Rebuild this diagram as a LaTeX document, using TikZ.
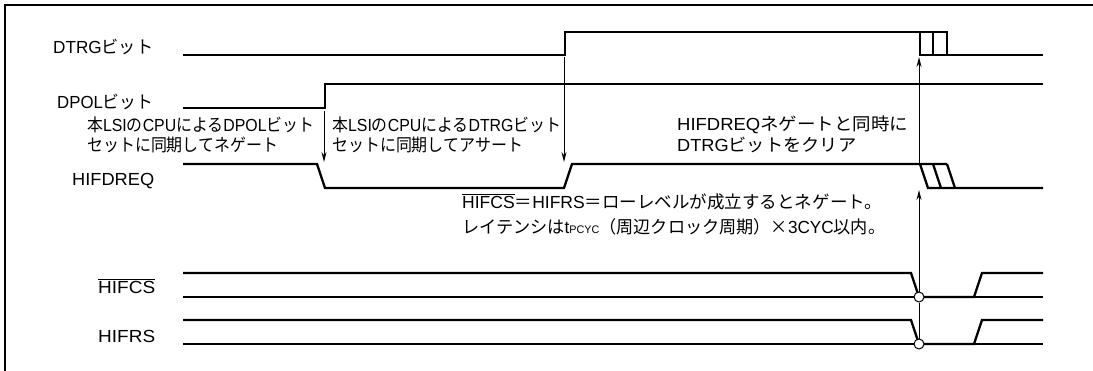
\documentclass[tikz,border=0pt]{standalone}
\usepackage{fontspec}
\setmainfont{Liberation Sans}
\newfontfamily\jp{Noto Sans CJK JP}
\usetikzlibrary{arrows.meta}
\newcommand\fw[2]{\resizebox{#1}{\height}{#2}}
\begin{document}
\begin{tikzpicture}[x=1pt,y=-1pt,
  sig/.style={line width=2.3pt,line join=miter},
  thin/.style={line width=1pt},
  arr/.style={line width=1pt,-{Stealth[length=10pt,width=5pt]}},
  lbl/.style={anchor=base west,inner sep=0pt,font=\fontsize{17.5}{17.5}\selectfont},
  note/.style={anchor=base west,inner sep=0pt,font=\fontsize{17.5}{21}\selectfont},
  dot/.style={circle,draw,fill=white,line width=1pt,inner sep=0pt,minimum size=10pt}]
\useasboundingbox (0,0) rectangle (1093,370);
\begin{scope}
\clip (0,0) rectangle (1093,370);
\draw[line width=2.5pt] (5,5) rectangle (1110,390);
\end{scope}
% labels
\node[lbl] (lDTRG) at (53,53) {\fw{100pt}{DTRG{\jp ビット}}};
\node[lbl] (lDPOL) at (57,108) {\fw{96pt}{DPOL{\jp ビット}}};
\node[lbl] (lREQ) at (72,185) {\fw{82pt}{HIFDREQ}};
\node[lbl] (lCS) at (98,293) {\fw{57pt}{$\overline{\mbox{HIFCS}}$}};
\node[lbl] (lRS) at (98,342) {\fw{57pt}{HIFRS}};
% DTRG
\draw[sig] (183,55) -- (565,55) -- (565,32) -- (947,32) -- (947,55);
\draw[sig] (920,32) -- (920,55) -- (1043,55);
\draw[sig] (933,32) -- (933,55);
% DPOL
\draw[sig] (183,108) -- (325,108) -- (325,84) -- (1043,84);
% HIFDREQ
\draw[sig] (183,164) -- (317,164) -- (325,188) -- (564,188) -- (572,164) -- (947,164);
\draw[sig] (920,164) -- (928,188) -- (1043,188);
\draw[sig] (933,164) -- (941,188);
\draw[sig] (947,164) -- (955,188);
% HIFCS
\draw[sig] (183,273) -- (911,273) -- (919,297);
\draw[sig] (919,297) -- (974,297) -- (982,273) -- (1043,273);
\draw[sig] (183,297) -- (1043,297);
% HIFRS
\draw[sig] (183,320) -- (911,320) -- (919,344);
\draw[sig] (919,344) -- (974,344) -- (982,320) -- (1043,320);
\draw[sig] (183,344) -- (1043,344);
% coordinates for arrows
\coordinate (a1s) at (324,111);
\coordinate (a1e) at (324,162);
\coordinate (a2s) at (564,57);
\coordinate (a2e) at (564,162);
\coordinate (a3s) at (919,163);
\coordinate (a3e) at (919,57);
\node[dot] (c1) at (919,297) {};
\node[dot] (c2) at (919,344) {};
\coordinate (a4e) at (919,190);
\draw[arr] (a1s) -- (a1e);
\draw[arr] (a2s) -- (a2e);
\draw[arr] (a3s) -- (a3e);
\draw[thin] (c1) -- (c2);
\draw[arr] (c1) -- (a4e);
% notes
\node[note] (n1) at (87,131) {\fw{227pt}{{\jp 本}LSI{\jp の}CPU{\jp による}DPOL{\jp ビット}}};
\node[note] (n1b) at (87,151) {\fw{191pt}{{\jp セットに同期してネゲート}}};
\node[note] (n2) at (332,131) {\fw{229pt}{{\jp 本}LSI{\jp の}CPU{\jp による}DTRG{\jp ビット}}};
\node[note] (n2b) at (332,151) {\fw{191pt}{{\jp セットに同期してアサート}}};
\node[note] (n3) at (677,130) {\fw{231pt}{HIFDREQ{\jp ネゲートと同時に}}};
\node[note] (n3b) at (677,151) {\fw{179pt}{DTRG{\jp ビットをクリア}}};
\node[note] (n4) at (462,208) {\fw{420pt}{$\overline{\mbox{HIFCS}}${\jp ＝}HIFRS{\jp ＝ローレベルが成立するとネゲート。}}};
\node[note] (n4b) at (462,233) {\fw{423pt}{{\jp レイテンシは}t{\fontsize{11}{11}\selectfont PCYC}{\jp （周辺クロック周期）×}3CYC{\jp 以内。}}};
\end{tikzpicture}
\end{document}
